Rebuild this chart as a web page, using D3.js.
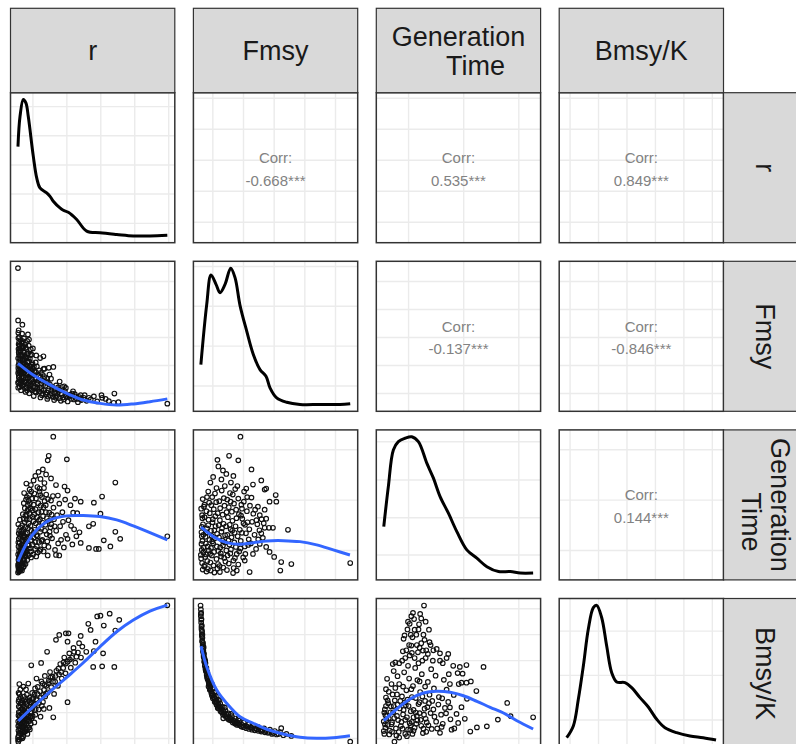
<!DOCTYPE html>
<html>
<head>
<meta charset="utf-8">
<script src="https://cdn.jsdelivr.net/npm/d3@7"></script>
<style>
  body { margin: 0; background: #ffffff; }
  svg { display: block; }
</style>
</head>
<body>
<svg id="chart" width="796" height="744"></svg>
<script>
// ---- variables of the pairs matrix ----
const stripLabels = [["r"], ["Fmsy"], ["Generation", "Time"], ["Bmsy/K"]];
const varRanges = [[0.28, 2.48], [0.061, 0.548], [5.5, 32.6], [0.288, 0.813]];
const varBreaks = [
  [0.5, 1, 1.5, 2, 2.5],
  [0.1, 0.2, 0.3, 0.4, 0.5],
  [10, 20, 30],
  [0.3, 0.4, 0.5, 0.6, 0.7, 0.8]
];
// density panels use a relative density scale (peak = 1)
const densityBreaks = [
  [0.092, 0.307, 0.52, 0.734, 0.948],
  [0.136, 0.428, 0.72, 1.012],
  [0.133, 0.406, 0.683, 0.963],
  [0.159, 0.486, 0.811]
];

// ---- correlation labels (upper triangle) ----
const corrRows = [0, 0, 0, 1, 1, 2];
const corrCols = [1, 2, 3, 2, 3, 3];
const corrValues = ["-0.668***", "0.535***", "0.849***", "-0.137***", "-0.846***", "0.144***"];

// ---- marginal densities: [value, relative density] ----
const densR = [[0.28,0.655],[0.31,0.875],[0.3585,1.0],[0.398,0.973],[0.432,0.875],[0.506,0.583],[0.556,0.425],[0.604,0.352],[0.703,0.315],[0.752,0.29],[0.80,0.254],[0.899,0.205],[0.948,0.188],[1.021,0.173],[1.145,0.12],[1.292,0.035],[1.488,0.023],[1.734,0.011],[1.979,0.0],[2.224,0.0],[2.48,0.005]];
const densF = [[0.061,0.293],[0.0801,0.734],[0.0941,0.949],[0.1104,0.881],[0.1235,0.82],[0.1398,0.881],[0.1583,0.999],[0.1724,0.93],[0.1886,0.727],[0.2105,0.538],[0.232,0.367],[0.2538,0.256],[0.2734,0.207],[0.2864,0.122],[0.3082,0.048],[0.3408,0.016],[0.3841,0.0],[0.4493,0.0],[0.5145,0.0],[0.548,0.006]];
const densG = [[5.5,0.341],[6.33,0.634],[7.24,0.903],[8.15,0.964],[9.36,0.989],[10.58,1.0],[11.78,0.964],[13.31,0.806],[14.51,0.696],[15.72,0.561],[17.23,0.439],[18.76,0.304],[20.57,0.17],[22.39,0.109],[24.21,0.047],[26.32,0.011],[28.44,0.011],[30.26,0.0],[32.6,0.0]];
const densB = [[0.288,0.029],[0.3114,0.115],[0.329,0.311],[0.3466,0.555],[0.364,0.824],[0.3817,0.983],[0.3936,1.0],[0.4112,0.909],[0.4287,0.701],[0.4463,0.506],[0.4639,0.438],[0.493,0.433],[0.5166,0.396],[0.5457,0.323],[0.5749,0.254],[0.6044,0.164],[0.6335,0.102],[0.6746,0.066],[0.7213,0.042],[0.768,0.029],[0.813,0.012]];

// ---- smoothers for the scatter panels: [x, fitted y] ----
const fitRF = [[0.28,0.208],[0.506,0.166],[0.752,0.131],[0.998,0.101],[1.242,0.077],[1.488,0.065],[1.734,0.059],[1.979,0.063],[2.224,0.071],[2.48,0.081]];
const fitRG = [[0.28,7.77],[0.409,11.43],[0.556,14.08],[0.752,16.07],[0.998,16.87],[1.242,16.93],[1.488,16.73],[1.734,16.07],[1.979,14.88],[2.224,13.54],[2.48,12.09]];
const fitFG = [[0.0616,14.62],[0.1016,12.75],[0.1453,11.55],[0.1886,11.23],[0.232,11.55],[0.2756,11.89],[0.3297,11.95],[0.3841,11.75],[0.4385,11.1],[0.4927,10.1],[0.5471,9.1]];
const fitRB = [[0.285,0.3677],[0.506,0.4227],[0.752,0.4804],[0.998,0.5358],[1.242,0.5919],[1.488,0.6535],[1.734,0.7112],[1.979,0.7562],[2.224,0.7908],[2.48,0.8139]];
const fitFB = [[0.0616,0.6561],[0.0801,0.5766],[0.1127,0.4869],[0.1453,0.4358],[0.1886,0.3842],[0.232,0.3589],[0.2756,0.3358],[0.3297,0.3177],[0.3841,0.305],[0.4385,0.3012],[0.4927,0.3035],[0.5471,0.3111]];
const fitGB = [[5.5,0.3688],[7.86,0.4138],[10.27,0.4523],[12.69,0.4754],[15.12,0.4819],[17.54,0.4781],[19.96,0.465],[22.39,0.4435],[24.81,0.4204],[27.22,0.3985],[29.66,0.3688],[32.6,0.3369]];

// ---- observations for each scatter panel: [x, y] ----
const ptsRF = [
  [0.28,0.548],[0.282,0.361],[0.345,0.346],[0.29,0.326],[0.285,0.317],[0.427,0.311],[0.442,0.293],[0.50,0.261],[0.549,0.236],[0.607,0.227],[0.655,0.233],[0.67,0.189],[0.733,0.192],[0.801,0.195],
  [0.961,0.126],[0.985,0.120],[1.204,0.094],[1.398,0.09],[1.51,0.094],[1.52,0.085],[1.70,0.10],[1.69,0.067],[1.76,0.069],[1.325,0.085],[1.13,0.09],[1.25,0.085],[1.08,0.10],[0.888,0.114],[0.816,0.105],[1.03,0.093],[2.48,0.064],
  [0.284,0.121],[0.301,0.148],[0.289,0.182],[0.312,0.208],[0.295,0.239],[0.306,0.271],[0.286,0.298],[0.317,0.134],[0.292,0.166],[0.309,0.193],[0.283,0.226],[0.314,0.254],[0.298,0.284],
  [0.325,0.112],[0.352,0.129],[0.338,0.146],[0.366,0.158],[0.331,0.176],[0.359,0.191],[0.344,0.204],[0.372,0.222],[0.328,0.236],[0.361,0.249],[0.347,0.266],[0.335,0.281],[0.369,0.297],[0.341,0.314],
  [0.392,0.106],[0.411,0.121],[0.386,0.142],[0.424,0.154],[0.403,0.171],[0.437,0.186],[0.395,0.199],[0.418,0.214],[0.384,0.231],[0.429,0.243],[0.407,0.259],[0.389,0.276],[0.415,0.288],
  [0.446,0.101],[0.472,0.116],[0.458,0.129],[0.489,0.149],[0.451,0.163],[0.478,0.181],[0.463,0.196],[0.494,0.208],[0.455,0.224],[0.482,0.239],[0.468,0.258],
  [0.512,0.091],[0.547,0.104],[0.528,0.121],[0.571,0.133],[0.536,0.151],[0.589,0.163],[0.519,0.179],[0.558,0.197],[0.541,0.211],
  [0.611,0.086],[0.648,0.099],[0.627,0.116],[0.683,0.128],[0.639,0.146],[0.671,0.159],[0.618,0.174],[0.657,0.188],
  [0.712,0.081],[0.756,0.094],[0.731,0.111],[0.784,0.124],[0.719,0.141],[0.767,0.153],[0.744,0.168],
  [0.813,0.077],[0.852,0.091],[0.829,0.101],[0.876,0.114],[0.841,0.129],[0.894,0.143],
  [0.912,0.074],[0.947,0.086],[0.926,0.096],[0.971,0.108],[0.935,0.124],
  [1.012,0.072],[1.064,0.081],[1.038,0.089],[1.117,0.098],[1.091,0.108],
  [1.163,0.069],[1.214,0.077],[1.186,0.087],[1.262,0.094],
  [0.281,0.139],[0.293,0.157],[0.304,0.176],[0.287,0.201],[0.318,0.219],[0.291,0.247],[0.303,0.262],[0.322,0.189],[0.336,0.161],[0.348,0.219],[0.357,0.172],[0.364,0.207],[0.375,0.141],[0.379,0.183],[0.398,0.157],[0.401,0.226],[0.421,0.196],[0.433,0.167],[0.444,0.214],[0.461,0.141],[0.476,0.171],[0.499,0.187],[0.509,0.142],[0.523,0.166],[0.563,0.121],[0.582,0.148],[0.596,0.107],[0.623,0.137],[0.662,0.112],[0.694,0.141],[0.703,0.104],[0.779,0.101],[0.836,0.085],[0.868,0.122],[0.957,0.079],[1.146,0.081],[1.291,0.074],[1.352,0.079],[1.447,0.072],[1.571,0.081],[1.618,0.073],
  [0.283,0.173],[0.296,0.211],[0.288,0.259],[0.307,0.123],[0.299,0.302],[0.315,0.172],[0.311,0.236],[0.323,0.146],[0.327,0.264],[0.319,0.291],[0.332,0.198],[0.339,0.127],[0.346,0.238],[0.353,0.152],[0.349,0.287],[0.356,0.211],[0.362,0.134],[0.367,0.268],[0.371,0.177],[0.378,0.246],[0.383,0.118],[0.387,0.205],[0.394,0.264],[0.399,0.138],[0.404,0.189],[0.409,0.241],[0.413,0.112],[0.417,0.172],[0.426,0.226],[0.431,0.135],[0.438,0.271],[0.443,0.158],[0.449,0.197],[0.453,0.119],[0.459,0.238],[0.466,0.177],[0.474,0.134],[0.481,0.203],[0.487,0.112],[0.493,0.164],[0.503,0.124],[0.515,0.197],[0.532,0.107],[0.544,0.177],[0.556,0.141],[0.575,0.113],[0.587,0.183],[0.602,0.121],[0.613,0.158],[0.633,0.094],[0.645,0.167],[0.668,0.135],[0.688,0.097],[0.711,0.153],[0.725,0.089],[0.749,0.133],[0.773,0.113],[0.797,0.088],[0.82,0.117],[0.857,0.102],[0.884,0.083],[0.918,0.101],[0.992,0.089],[1.045,0.096],[1.105,0.079],[1.198,0.081],[0.285,0.191],[0.292,0.142],[0.301,0.227],[0.29,0.276]
];

const ptsRG = [
  [0.80,32.6],[0.733,28.8],[0.718,27.9],[1.0,28.1],[0.646,26.1],[0.694,25.1],[0.767,24.3],[0.51,23.9],[0.451,22.1],[0.597,22.3],[0.84,23.0],[0.966,22.7],[1.01,21.9],[1.714,23.5],[1.519,20.7],[1.398,19.5],[1.204,19.7],[1.12,20.3],[1.325,14.8],[1.388,15.3],[1.495,17.3],[1.544,12.0],[1.714,13.7],[1.786,12.3],[1.641,10.8],[1.471,10.3],[1.43,10.3],[1.325,10.5],[1.204,11.5],[1.14,12.8],[2.48,12.8],[1.01,12.3],[0.888,9.0],[0.84,9.1],[0.718,9.0],[0.549,8.8],
  [0.281,5.6],[0.289,6.1],[0.296,5.8],[0.284,6.7],[0.302,6.4],[0.311,7.0],[0.293,7.4],[0.322,7.8],[0.287,8.1],[0.334,6.9],[0.318,8.6],[0.347,7.5],[0.361,8.3],[0.376,7.9],[0.392,8.8],
  [0.283,9.2],[0.297,9.9],[0.288,10.8],[0.305,11.5],[0.292,12.3],[0.314,13.1],[0.299,14.0],[0.285,15.2],[0.327,10.4],[0.339,12.0],[0.318,9.5],[0.351,13.6],[0.308,16.1],[0.344,15.0],
  [0.368,9.4],[0.385,10.6],[0.402,11.8],[0.374,12.9],[0.419,13.5],[0.391,14.6],[0.437,15.4],[0.366,16.3],[0.408,17.1],[0.452,16.2],[0.381,18.4],[0.426,19.0],[0.463,18.3],[0.398,20.1],[0.445,21.0],[0.488,20.3],[0.471,9.8],[0.495,11.2],[0.512,12.5],[0.534,10.3],[0.526,14.1],[0.551,13.0],[0.507,15.8],[0.563,16.6],[0.539,18.2],[0.578,19.4],[0.521,21.3],[0.592,11.7],[0.585,14.8],[0.571,9.6],
  [0.612,10.2],[0.638,12.1],[0.667,11.0],[0.621,14.3],[0.684,15.1],[0.649,16.8],[0.703,13.2],[0.729,10.7],[0.615,18.9],[0.672,19.8],[0.741,17.5],[0.758,14.6],[0.696,21.1],[0.782,12.4],[0.811,16.2],[0.767,19.9],[0.826,10.1],[0.795,20.8],[0.843,13.9],[0.632,20.6],
  [0.872,11.4],[0.901,14.8],[0.934,17.6],[0.889,19.3],[0.956,10.6],[0.987,13.1],[1.024,16.0],[1.053,19.0],[1.081,11.2],[1.107,14.2],[1.152,17.4],[1.186,13.6],
  [0.295,8.6],[0.306,9.3],[0.321,10.1],[0.333,11.1],[0.345,9.0],[0.357,10.4],[0.372,11.3],[0.389,9.1],[0.406,10.0],[0.423,9.3],[0.414,12.4],[0.441,11.0],[0.458,12.8],[0.476,13.9],[0.359,12.7],[0.328,13.8],
  [0.403,23.3],[0.476,21.7],[0.597,21.7],
  [0.282,7.2],[0.286,11.6],[0.291,13.4],[0.298,5.9],[0.303,8.1],[0.309,12.7],[0.313,10.6],[0.317,14.6],[0.324,6.2],[0.329,9.1],[0.336,13.2],[0.341,7.1],[0.349,11.7],[0.354,8.2],[0.362,14.1],[0.367,6.8],[0.373,10.1],[0.379,15.6],[0.384,12.2],[0.391,7.3],[0.396,13.3],[0.401,9.6],[0.409,16.1],[0.416,8.1],[0.421,11.1],[0.428,14.4],[0.434,9.0],[0.443,12.6],[0.449,17.3],[0.456,10.4],[0.465,14.9],[0.473,8.6],[0.481,12.0],[0.492,16.7],[0.503,9.2],[0.514,13.6],[0.529,11.7],[0.543,15.4],[0.558,10.8],[0.569,12.8],[0.582,17.6],[0.598,9.9],[0.607,13.7],[0.626,11.9],[0.644,15.5],[0.658,9.8],[0.677,13.9],[0.691,17.6],[0.712,11.8],[0.735,15.9],[0.751,12.9],[0.776,17.1],[0.29,6.9],[0.301,7.6],[0.315,6.1],[0.339,6.0],[0.353,6.6],[0.369,7.4],[0.418,17.9],[0.366,19.4],[0.437,19.9],[0.512,19.1],[0.604,16.2],
  [0.352,17.2],[0.371,21.4],[0.389,16.9],[0.412,20.6],[0.431,18.2],[0.455,19.4],[0.47,23.0],[0.497,18.0],[0.518,17.1],[0.545,20.3],[0.566,22.6],[0.588,15.9],[0.61,21.0],[0.626,17.7],[0.657,18.6],[0.663,22.4],[0.689,19.0],[0.706,16.4],[0.722,20.2],[0.746,13.7],[0.771,15.2],[0.803,18.5],[0.821,14.8],[0.857,17.0],[0.868,20.9],[0.915,12.1],[0.943,15.7],[0.975,20.1],[1.062,14.9],[1.093,17.5],[0.536,24.8],[0.612,24.2],[0.583,25.6],[0.67,23.4]
];

const ptsFG = [
  [0.19,32.6],[0.115,28.0],[0.153,28.8],[0.183,27.9],[0.226,26.1],[0.144,25.2],[0.128,24.1],[0.092,23.5],[0.159,23.5],[0.18,22.8],[0.231,23.1],[0.258,23.9],[0.269,22.1],[0.274,22.3],[0.305,21.0],[0.307,19.7],[0.285,19.7],[0.209,22.3],[0.202,21.7],[0.226,20.5],[0.195,18.3],[0.247,18.7],[0.269,18.1],[0.253,17.0],[0.274,16.3],[0.242,16.0],[0.296,14.5],[0.283,14.5],[0.269,14.5],[0.345,14.1],[0.30,8.7],[0.323,7.7],[0.32,6.0],[0.356,7.3],[0.548,7.5],[0.274,10.7],[0.285,9.7],[0.253,11.3],[0.231,9.3],[0.204,8.0],[0.22,5.7],[0.166,5.5],[0.123,5.7],[0.064,12.8],
  [0.062,8.4],[0.064,10.1],[0.066,11.9],[0.063,13.6],[0.068,15.2],[0.065,17.0],[0.071,18.7],[0.067,20.2],[0.074,7.1],[0.078,9.2],[0.083,10.8],[0.076,12.7],[0.081,14.4],[0.086,16.1],[0.079,17.8],[0.088,19.5],[0.084,6.3],[0.089,12.1],[0.072,6.8],[0.069,9.6],
  [0.092,7.6],[0.097,9.0],[0.094,10.5],[0.101,11.4],[0.096,12.9],[0.105,14.0],[0.099,15.6],[0.108,16.8],[0.103,18.2],[0.111,19.6],[0.115,6.4],[0.112,8.3],[0.118,9.9],[0.114,13.3],[0.119,15.0],[0.116,17.4],[0.107,21.3],[0.093,6.0],
  [0.122,6.9],[0.127,8.8],[0.124,10.6],[0.131,12.0],[0.128,13.7],[0.135,15.3],[0.132,17.1],[0.138,18.9],[0.141,7.8],[0.144,10.0],[0.139,11.6],[0.147,13.1],[0.143,14.8],[0.149,16.6],[0.136,20.4],[0.146,6.1],
  [0.152,7.4],[0.157,9.4],[0.154,11.2],[0.161,12.6],[0.158,14.2],[0.164,15.9],[0.162,17.7],[0.169,19.3],[0.172,8.5],[0.175,10.7],[0.171,13.5],[0.177,16.4],[0.168,6.5],[0.156,21.4],
  [0.183,7.2],[0.186,9.8],[0.191,11.9],[0.188,14.1],[0.196,16.3],[0.193,19.1],[0.204,10.8],[0.208,13.4],[0.213,15.6],[0.217,12.2],[0.199,8.6],[0.211,17.8],
  [0.224,11.4],[0.236,13.1],[0.241,10.3],[0.228,15.7],[0.252,14.0],[0.263,12.5],[0.238,18.1],[0.259,16.2],
  [0.061,9.1],[0.063,11.3],[0.064,14.7],[0.066,16.4],[0.062,18.3],[0.065,7.5],[0.069,13.1],[0.07,10.6],[0.073,16.6],[0.075,8.7],[0.077,11.4],[0.08,13.6],[0.082,7.9],[0.085,15.0],[0.087,10.0],[0.09,17.4],[0.091,9.3],[0.094,13.9],[0.098,11.8],[0.1,16.2],[0.102,7.0],[0.104,9.7],[0.106,12.4],[0.109,14.8],[0.113,10.8],[0.117,7.3],[0.12,12.6],[0.123,16.0],[0.126,9.4],[0.13,14.4],[0.133,11.0],[0.137,8.5],[0.14,13.0],[0.145,17.6],[0.148,9.0],[0.151,12.0],[0.155,15.1],[0.159,10.2],[0.163,13.9],[0.167,8.0],[0.17,11.6],[0.174,14.8],[0.178,9.3],[0.181,12.8],[0.185,17.2],[0.19,10.4],[0.195,13.5],[0.2,15.4],[0.206,9.3],[0.215,11.1],[0.073,19.1],[0.081,20.6],[0.095,19.0],[0.124,18.4],[0.152,18.6],[0.067,6.2],[0.079,5.8],[0.105,5.6],[0.134,6.6],[0.178,6.0],
  [0.085,21.7],[0.098,20.6],[0.112,22.4],[0.121,19.8],[0.129,21.9],[0.139,22.8],[0.147,20.1],[0.158,19.7],[0.165,21.1],[0.173,22.2],[0.176,18.1],[0.183,20.3],[0.192,16.9],[0.201,19.7],[0.205,15.1],[0.212,20.6],[0.219,14.2],[0.221,18.9],[0.232,17.3],[0.245,15.2],[0.248,12.2],[0.258,13.4],[0.266,15.4],[0.101,24.6],[0.133,25.9],[0.167,24.8],[0.118,26.7]
];

const ptsRB = [
  [2.48,0.813],[1.631,0.781],[1.495,0.773],[1.447,0.770],[1.316,0.742],[1.544,0.735],[1.772,0.757],[1.35,0.718],[1.714,0.716],[1.204,0.695],[1.422,0.673],[1.534,0.628],[1.398,0.637],[1.699,0.576],[1.52,0.578],[1.388,0.576],[0.985,0.705],[0.84,0.68],[0.888,0.699],[1.024,0.705],[0.709,0.634],[1.01,0.673],[1.18,0.667],[1.107,0.634],[1.286,0.634],[1.228,0.654],[1.141,0.615],[0.985,0.589],[0.476,0.582],[0.621,0.591],[1.01,0.44],[0.80,0.382],[0.743,0.418],[0.66,0.414],[0.285,0.288],
  [0.282,0.295],[0.291,0.312],[0.287,0.331],[0.299,0.349],[0.284,0.366],[0.305,0.384],[0.293,0.402],[0.312,0.421],[0.289,0.443],[0.318,0.459],[0.326,0.302],[0.334,0.327],[0.321,0.356],[0.342,0.373],[0.329,0.394],[0.347,0.412],[0.338,0.437],[0.302,0.471],
  [0.356,0.308],[0.371,0.326],[0.362,0.347],[0.384,0.361],[0.368,0.383],[0.393,0.397],[0.377,0.418],[0.402,0.432],[0.386,0.451],[0.411,0.469],[0.419,0.318],[0.427,0.341],[0.414,0.372],[0.436,0.389],[0.423,0.409],[0.441,0.447],[0.398,0.489],[0.432,0.512],
  [0.455,0.335],[0.468,0.357],[0.482,0.378],[0.461,0.401],[0.495,0.419],[0.474,0.438],[0.507,0.456],[0.489,0.476],[0.521,0.362],[0.536,0.392],[0.518,0.429],[0.549,0.451],[0.532,0.493],[0.567,0.472],[0.584,0.412],[0.553,0.531],
  [0.612,0.384],[0.631,0.426],[0.619,0.459],[0.648,0.441],[0.664,0.487],[0.643,0.512],[0.681,0.462],[0.697,0.503],[0.676,0.541],[0.718,0.478],[0.736,0.524],[0.752,0.556],[0.771,0.498],[0.789,0.538],
  [0.812,0.472],[0.827,0.519],[0.846,0.561],[0.868,0.503],[0.884,0.547],[0.903,0.587],[0.925,0.531],[0.946,0.572],[0.962,0.612],[0.981,0.551],
  [1.012,0.596],[1.036,0.628],[1.058,0.573],[1.077,0.611],[1.098,0.649],[1.124,0.592],[1.163,0.631],[1.208,0.612],
  [0.296,0.322],[0.308,0.341],[0.316,0.371],[0.331,0.346],[0.351,0.331],[0.359,0.366],[0.374,0.351],[0.389,0.338],[0.405,0.356],[0.396,0.379],[0.418,0.393],[0.447,0.368],[0.463,0.386],[0.352,0.394],
  [0.281,0.305],[0.284,0.348],[0.288,0.389],[0.292,0.423],[0.295,0.451],[0.301,0.296],[0.306,0.362],[0.311,0.401],[0.314,0.334],[0.319,0.437],[0.323,0.381],[0.327,0.319],[0.333,0.414],[0.337,0.364],[0.343,0.447],[0.346,0.301],[0.353,0.385],[0.358,0.426],[0.363,0.322],[0.369,0.461],[0.375,0.372],[0.381,0.406],[0.387,0.327],[0.392,0.441],[0.399,0.371],[0.407,0.391],[0.413,0.333],[0.421,0.437],[0.429,0.366],[0.438,0.412],[0.445,0.343],[0.452,0.458],[0.459,0.381],[0.466,0.422],[0.478,0.399],[0.486,0.452],[0.497,0.386],[0.509,0.432],[0.524,0.471],[0.541,0.414],[0.556,0.448],[0.571,0.499],[0.589,0.437],[0.605,0.482],[0.625,0.52],[0.652,0.468],[0.673,0.507],[0.694,0.473],[0.724,0.513],[0.758,0.535],[0.796,0.519],[0.833,0.541],[0.875,0.569],[0.914,0.556],[0.952,0.593],[1.045,0.604],[0.3,0.51],[0.315,0.489],[0.36,0.5],[0.289,0.476]
];

const ptsFB = [
  [0.060,0.812],[0.061,0.797],[0.062,0.784],[0.061,0.771],[0.063,0.759],[0.062,0.746],[0.064,0.735],[0.063,0.722],[0.065,0.711],[0.064,0.699],[0.066,0.688],[0.065,0.676],[0.068,0.667],[0.067,0.655],[0.069,0.646],[0.068,0.634],[0.071,0.627],[0.07,0.615],[0.073,0.607],[0.072,0.596],[0.076,0.59],[0.074,0.579],[0.079,0.572],[0.077,0.562],[0.082,0.555],[0.08,0.545],[0.085,0.539],[0.083,0.528],[0.089,0.523],[0.087,0.512],[0.094,0.506],[0.091,0.496],[0.099,0.492],[0.096,0.481],[0.104,0.478],[0.101,0.467],[0.11,0.463],[0.107,0.452],[0.117,0.449],[0.113,0.438],[0.124,0.435],[0.12,0.424],[0.132,0.422],[0.128,0.411],[0.141,0.409],[0.137,0.398],[0.151,0.397],[0.146,0.386],[0.162,0.386],[0.157,0.376],[0.174,0.377],[0.169,0.367],[0.187,0.369],[0.182,0.359],[0.201,0.361],[0.196,0.352],[0.216,0.354],[0.211,0.346],[0.232,0.349],[0.227,0.341],[0.249,0.344],[0.244,0.336],[0.267,0.339],[0.262,0.331],[0.286,0.334],[0.281,0.326],[0.302,0.329],[0.298,0.321],[0.323,0.34],[0.314,0.318],[0.356,0.31],[0.548,0.288],
  [0.066,0.7],[0.07,0.652],[0.075,0.6],[0.081,0.55],[0.086,0.52],[0.093,0.5],[0.098,0.472],[0.105,0.46],[0.112,0.445],[0.119,0.43],[0.127,0.418],[0.135,0.405],[0.145,0.393],[0.155,0.381],[0.166,0.371],[0.178,0.363],[0.192,0.356],[0.207,0.35],[0.223,0.344],[0.239,0.34],[0.255,0.334],[0.272,0.329],[0.291,0.325],[0.096,0.512],[0.108,0.48],[0.122,0.448],[0.139,0.42],[0.16,0.395],[0.184,0.376],[0.116,0.418],[0.13,0.4],[0.149,0.376],[0.172,0.358],[0.134,0.378],
  [0.061,0.78],[0.062,0.757],[0.063,0.731],[0.064,0.716],[0.065,0.693],[0.066,0.672],[0.067,0.661],[0.069,0.638],[0.07,0.623],[0.072,0.61],[0.073,0.595],[0.075,0.583],[0.076,0.568],[0.078,0.558],[0.08,0.56],[0.081,0.536],[0.084,0.532],[0.086,0.5],[0.088,0.508],[0.09,0.488],[0.092,0.49],[0.095,0.475],[0.097,0.466],[0.1,0.455],[0.103,0.458],[0.106,0.442],[0.109,0.44],[0.112,0.43],[0.115,0.427],[0.118,0.418],[0.121,0.415],[0.125,0.405],[0.129,0.404],[0.133,0.393],[0.138,0.39],[0.143,0.383],[0.148,0.38],[0.153,0.372],[0.159,0.37],[0.165,0.362],[0.171,0.361],[0.178,0.353],[0.185,0.352],[0.193,0.346],[0.2,0.344],[0.209,0.34],[0.218,0.337],[0.228,0.334],[0.237,0.332],[0.248,0.33],[0.258,0.327],[0.27,0.324],[0.28,0.322],[0.293,0.318],[0.308,0.316],[0.319,0.325],[0.34,0.318],[0.33,0.313]
];

const ptsGB = [
  [12.8,0.812],[10.8,0.784],[10.5,0.771],[12.3,0.762],[10.2,0.742],[11.9,0.74],[11.1,0.719],[13.7,0.719],[9.27,0.697],[9.1,0.684],[10.7,0.69],[10.5,0.658],[12.3,0.667],[13.8,0.671],[8.96,0.636],[11.7,0.632],[12.6,0.639],[13.5,0.626],[15.1,0.645],[15.7,0.628],[17.2,0.626],[8.84,0.60],[7.13,0.587],[7.6,0.593],[19.3,0.576],[20.5,0.583],[23.6,0.576],[27.9,0.437],[32.6,0.382],[26.2,0.373],[28.5,0.386],[21.2,0.327],[22.4,0.343],[24.2,0.347],[19.6,0.515],[20.5,0.515],[22.3,0.483],[19.0,0.36],[17.8,0.334],[7.44,0.288],
  [5.6,0.318],[5.8,0.342],[5.5,0.366],[6.1,0.389],[5.7,0.412],[6.3,0.436],[5.9,0.458],[6.6,0.331],[6.9,0.355],[6.4,0.378],[7.2,0.401],[6.8,0.424],[7.5,0.447],[7.1,0.47],[7.8,0.312],[7.6,0.495],
  [8.2,0.325],[8.6,0.348],[8.1,0.371],[9.0,0.393],[8.4,0.416],[9.3,0.439],[8.8,0.462],[9.6,0.486],[8.3,0.51],[9.9,0.335],[10.2,0.359],[9.7,0.382],[10.4,0.405],[9.5,0.428],[10.1,0.531],[9.2,0.555],
  [10.7,0.318],[11.1,0.342],[10.6,0.364],[11.5,0.387],[10.9,0.41],[11.8,0.433],[11.3,0.456],[12.1,0.479],[10.8,0.502],[11.6,0.525],[12.4,0.548],[12.7,0.338],[12.2,0.372],[12.9,0.415],[12.5,0.462],[11.2,0.572],
  [13.2,0.326],[13.6,0.351],[13.1,0.376],[14.0,0.398],[13.4,0.421],[14.3,0.445],[13.8,0.469],[14.6,0.493],[13.5,0.518],[14.9,0.542],[15.2,0.339],[14.7,0.384],[15.4,0.431],[14.1,0.567],
  [15.7,0.322],[16.2,0.357],[15.9,0.392],[16.6,0.418],[16.1,0.455],[16.9,0.488],[16.4,0.526],[17.3,0.548],[17.6,0.374],[17.2,0.441],
  [18.3,0.339],[18.7,0.395],[18.2,0.468],[19.1,0.51],[19.6,0.421],[20.2,0.376],[18.9,0.552],[20.6,0.453],
  [5.8,0.39],[6.2,0.352],[7.0,0.326],[7.4,0.379],[8.0,0.43],[8.7,0.364],[9.4,0.318],[9.8,0.45],[10.3,0.333],[10.9,0.382],[11.4,0.357],[12.0,0.398],[12.6,0.321],[13.0,0.445],
  [5.5,0.329],[5.7,0.355],[5.6,0.4],[5.9,0.425],[6.0,0.371],[6.2,0.447],[6.5,0.316],[6.7,0.401],[7.0,0.362],[7.3,0.425],[7.7,0.339],[7.9,0.387],[8.3,0.304],[8.5,0.445],[8.9,0.338],[9.1,0.41],[9.4,0.372],[9.7,0.309],[10.0,0.425],[10.4,0.351],[10.6,0.46],[10.9,0.33],[11.3,0.4],[11.6,0.37],[12.0,0.44],[12.3,0.349],[12.8,0.392],[13.3,0.362],[13.7,0.436],[14.2,0.337],[14.5,0.412],[15.0,0.365],[15.5,0.46],[16.0,0.345],[16.8,0.397],[17.5,0.42],[6.4,0.48],[7.9,0.47],[9.0,0.5],[10.5,0.49],[12.0,0.52],[13.0,0.5],[8.0,0.54],[9.9,0.58],[11.8,0.59],[14.4,0.6],[13.1,0.61],[16.2,0.59],[6.9,0.51],[5.9,0.49],
  [9.8,0.72],[11.4,0.7],[12.9,0.68],[10.1,0.66],[12.0,0.65],[11.0,0.76],[13.2,0.64],[9.6,0.64],
  [9.4,0.61],[10.2,0.62],[11.1,0.61],[12.5,0.6],[10.6,0.63],[11.5,0.66],[12.7,0.7],[10.4,0.7],[11.8,0.72],[9.9,0.75],[12.1,0.78],[13.1,0.75],[14.5,0.64],[15.7,0.6],[16.9,0.61],[14.0,0.66],[8.3,0.59],[7.3,0.56],[6.1,0.53],[18.1,0.58],[19.8,0.55],[21.3,0.52],[17.5,0.51]
];

const densities = [densR, densF, densG, densB];
const lowerPanels = [
  { row: 1, col: 0, pts: ptsRF, fit: fitRF },
  { row: 2, col: 0, pts: ptsRG, fit: fitRG },
  { row: 2, col: 1, pts: ptsFG, fit: fitFG },
  { row: 3, col: 0, pts: ptsRB, fit: fitRB },
  { row: 3, col: 1, pts: ptsFB, fit: fitFB },
  { row: 3, col: 2, pts: ptsGB, fit: fitGB }
];

// ---- layout ----
const N = 4;
const PW = 164.3, PH = 150;
const colX = d3.range(N).map(i => 10.5 + i * 182.9);
const rowY = d3.range(N).map(j => 92.7 + j * 168.6);
const stripTop = 8.3, stripSize = 84.4;
const stripX = colX[N - 1] + PW;

const FONT = "'Liberation Sans', Arial, Helvetica, sans-serif";
const GRID = "#ebebeb", BORDER = "#333333", STRIP_FILL = "#d9d9d9";

const svg = d3.select("#chart");
svg.append("rect").attr("width", 796).attr("height", 744).attr("fill", "#fff");
const defs = svg.append("defs");

function expanded(range) {
  const pad = (range[1] - range[0]) * 0.05;
  return [range[0] - pad, range[1] + pad];
}
const xScale = i => d3.scaleLinear().domain(expanded(varRanges[i])).range([colX[i], colX[i] + PW]);
const yScale = j => d3.scaleLinear().domain(expanded(varRanges[j])).range([rowY[j] + PH, rowY[j]]);
const densScale = j => d3.scaleLinear().domain([-0.05, 1.05]).range([rowY[j] + PH, rowY[j]]);

function panel(row, col) {
  const id = `clip-${row}-${col}`;
  defs.append("clipPath").attr("id", id)
    .append("rect").attr("x", colX[col]).attr("y", rowY[row]).attr("width", PW).attr("height", PH);
  const g = svg.append("g");
  g.append("rect").attr("x", colX[col]).attr("y", rowY[row]).attr("width", PW).attr("height", PH).attr("fill", "#fff");
  const inner = g.append("g").attr("clip-path", `url(#${id})`);
  const x = xScale(col);
  const y = row === col ? densScale(row) : yScale(row);
  const hBreaks = row === col ? densityBreaks[row] : varBreaks[row];
  inner.selectAll("line.v").data(varBreaks[col]).join("line")
    .attr("x1", d => x(d)).attr("x2", d => x(d))
    .attr("y1", rowY[row]).attr("y2", rowY[row] + PH)
    .attr("stroke", GRID).attr("stroke-width", 1.4);
  inner.selectAll("line.h").data(hBreaks).join("line")
    .attr("y1", d => y(d)).attr("y2", d => y(d))
    .attr("x1", colX[col]).attr("x2", colX[col] + PW)
    .attr("stroke", GRID).attr("stroke-width", 1.4);
  return { g, inner, x, y };
}

function border(row, col) {
  svg.append("rect").attr("x", colX[col]).attr("y", rowY[row]).attr("width", PW).attr("height", PH)
    .attr("fill", "none").attr("stroke", BORDER).attr("stroke-width", 1.5);
}

// diagonal: densities
for (let k = 0; k < N; k++) {
  const p = panel(k, k);
  const line = d3.line().x(d => p.x(d[0])).y(d => p.y(d[1])).curve(d3.curveCatmullRom.alpha(0.5));
  p.inner.append("path").datum(densities[k]).attr("d", line)
    .attr("fill", "none").attr("stroke", "#000").attr("stroke-width", 3)
    .attr("stroke-linejoin", "round").attr("stroke-linecap", "butt");
  border(k, k);
}

// upper triangle: correlations
corrRows.forEach((row, idx) => {
  const col = corrCols[idx];
  const p = panel(row, col);
  const cx = colX[col] + PW / 2, cy = rowY[row] + PH / 2;
  const t = p.g.append("text").attr("text-anchor", "middle")
    .attr("font-family", FONT).attr("font-size", 15).attr("fill", "#828282");
  t.append("tspan").attr("x", cx).attr("y", cy - 4.6).text("Corr:");
  t.append("tspan").attr("x", cx).attr("y", cy + 18.1).text(corrValues[idx]);
  border(row, col);
});

// lower triangle: scatter + smoother
lowerPanels.forEach(lp => {
  const p = panel(lp.row, lp.col);
  p.inner.selectAll("circle").data(lp.pts).join("circle")
    .attr("cx", d => p.x(d[0])).attr("cy", d => p.y(d[1])).attr("r", 2.3)
    .attr("fill", "none").attr("stroke", "#111").attr("stroke-width", 1.15);
  const line = d3.line().x(d => p.x(d[0])).y(d => p.y(d[1])).curve(d3.curveCatmullRom.alpha(0.5));
  p.inner.append("path").datum(lp.fit).attr("d", line)
    .attr("fill", "none").attr("stroke", "#3366FF").attr("stroke-width", 3)
    .attr("stroke-linecap", "butt");
  border(lp.row, lp.col);
});

// strips
const STRIP_FONT = 27, LINE_GAP = 29, CAP = 0.716 * STRIP_FONT, SECOND_SHIFT = 17;
function stripText(g, lines, cx, cy) {
  const t = g.append("text").attr("text-anchor", "middle")
    .attr("font-family", FONT).attr("font-size", STRIP_FONT).attr("fill", "#1a1a1a");
  const first = cy + CAP / 2 - (lines.length - 1) * LINE_GAP / 2;
  lines.forEach((ln, i) => {
    t.append("tspan").attr("x", cx + (i > 0 ? SECOND_SHIFT : 0)).attr("y", first + i * LINE_GAP).text(ln);
  });
}
for (let i = 0; i < N; i++) {
  const g = svg.append("g");
  g.append("rect").attr("x", colX[i]).attr("y", stripTop).attr("width", PW).attr("height", stripSize)
    .attr("fill", STRIP_FILL).attr("stroke", BORDER).attr("stroke-width", 1.2);
  stripText(g, stripLabels[i], colX[i] + PW / 2, stripTop + stripSize / 2);
}
for (let j = 0; j < N; j++) {
  const g = svg.append("g");
  g.append("rect").attr("x", stripX).attr("y", rowY[j]).attr("width", stripSize).attr("height", PH)
    .attr("fill", STRIP_FILL).attr("stroke", BORDER).attr("stroke-width", 1.2);
  const cx = stripX + stripSize / 2, cy = rowY[j] + PH / 2;
  const rg = g.append("g").attr("transform", `translate(${cx},${cy}) rotate(90)`);
  stripText(rg, stripLabels[j], 0, 0);
}
</script>
</body>
</html>
